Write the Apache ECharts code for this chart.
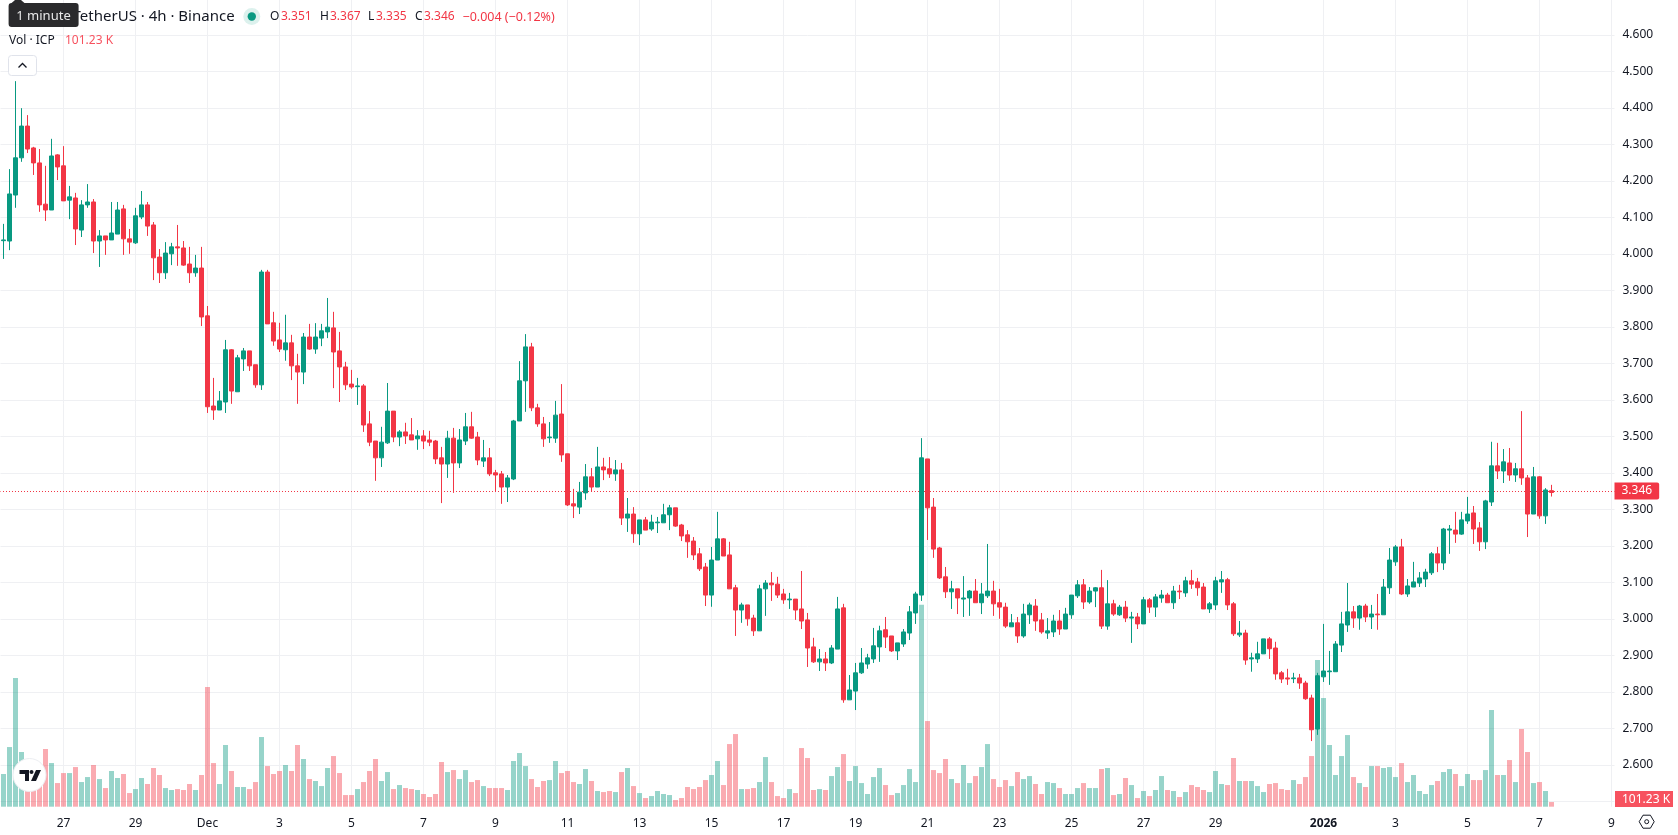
<!DOCTYPE html>
<html>
<head>
<meta charset="utf-8">
<title>ICP / TetherUS 4h</title>
<script src="https://cdn.jsdelivr.net/npm/echarts@6/dist/echarts.min.js"></script>
<style>
  html, body { margin: 0; padding: 0; background: #fff; }
  #chart { width: 1678px; height: 835px; }
</style>
</head>
<body>
<div id="chart"></div>
<script>
// ICP/USDT 4h candles, oldest first. One candle every four hours from the start time below.
const startTime = Date.UTC(2025, 10, 25, 8);
const stepMs = 4 * 3600 * 1000;
const slotCount = 269; // candles plus the empty space on the right of the time scale

const opens = [
  4.036,4.035,4.161,4.263,4.350,4.290,4.249,4.136,4.120,4.271,
  4.241,4.147,4.153,4.065,4.134,4.142,4.035,4.049,4.038,4.054,
  4.123,4.041,4.030,4.101,4.134,4.079,3.991,3.948,4.000,4.019,
  4.016,3.972,3.948,3.961,3.830,3.583,3.572,3.594,3.737,3.622,
  3.712,3.734,3.696,3.641,3.950,3.811,3.764,3.737,3.756,3.693,
  3.676,3.772,3.739,3.769,3.786,3.797,3.734,3.690,3.643,3.636,
  3.638,3.534,3.487,3.441,3.482,3.569,3.498,3.512,3.504,3.493,
  3.501,3.490,3.487,3.441,3.424,3.495,3.427,3.487,3.526,3.498,
  3.432,3.441,3.400,3.397,3.361,3.383,3.542,3.652,3.745,3.578,
  3.534,3.496,3.495,3.561,3.452,3.315,3.306,3.345,3.389,3.361,
  3.416,3.411,3.397,3.408,3.276,3.287,3.233,3.271,3.246,3.263,
  3.263,3.285,3.304,3.257,3.230,3.213,3.178,3.142,3.065,3.161,
  3.219,3.175,3.085,3.024,3.038,3.002,2.967,3.082,3.098,3.095,
  3.068,3.052,3.054,3.027,2.997,2.923,2.882,2.890,2.879,2.917,
  3.030,2.778,2.802,2.852,2.876,2.890,2.923,2.970,2.953,2.912,
  2.931,2.961,3.016,3.065,3.438,3.306,3.194,3.115,3.074,3.082,
  3.054,3.057,3.076,3.044,3.063,3.076,3.044,3.032,2.978,2.989,
  2.953,3.011,3.035,2.997,2.961,2.964,2.994,2.972,3.011,3.063,
  3.093,3.046,3.076,3.085,2.980,3.041,3.011,3.032,3.002,3.005,
  2.986,3.052,3.032,3.057,3.065,3.044,3.076,3.071,3.104,3.101,
  3.087,3.027,3.038,3.101,3.107,3.041,2.956,2.961,2.890,2.890,
  2.904,2.945,2.920,2.852,2.838,2.836,2.838,2.824,2.783,2.698,
  2.841,2.855,2.855,2.928,2.983,3.019,3.002,3.035,3.005,3.013,
  3.011,3.085,3.156,3.197,3.068,3.087,3.098,3.109,3.126,3.178,
  3.153,3.243,3.243,3.232,3.268,3.290,3.249,3.211,3.320,3.419,
  3.405,3.427,3.394,3.411,3.386,3.287,3.389,3.282,3.351
];
const closes = [
  4.038,4.164,4.263,4.350,4.287,4.249,4.134,4.120,4.268,4.238,
  4.145,4.156,4.068,4.134,4.142,4.035,4.049,4.038,4.057,4.120,
  4.041,4.032,4.104,4.134,4.076,3.989,3.948,4.002,4.019,4.016,
  3.969,3.948,3.961,3.827,3.581,3.572,3.597,3.737,3.624,3.715,
  3.734,3.693,3.641,3.950,3.808,3.761,3.739,3.756,3.693,3.676,
  3.772,3.739,3.772,3.789,3.799,3.731,3.690,3.641,3.635,3.638,
  3.531,3.484,3.441,3.484,3.569,3.498,3.512,3.501,3.490,3.501,
  3.487,3.484,3.438,3.424,3.495,3.427,3.490,3.526,3.495,3.435,
  3.441,3.397,3.394,3.361,3.386,3.542,3.652,3.745,3.578,3.534,
  3.493,3.498,3.558,3.449,3.312,3.309,3.347,3.389,3.361,3.416,
  3.408,3.397,3.408,3.276,3.287,3.233,3.271,3.243,3.265,3.265,
  3.285,3.304,3.254,3.227,3.211,3.175,3.137,3.065,3.161,3.219,
  3.172,3.082,3.024,3.038,3.000,2.967,3.082,3.098,3.093,3.065,
  3.052,3.054,3.024,2.994,2.920,2.882,2.890,2.879,2.920,3.027,
  2.778,2.805,2.852,2.879,2.893,2.926,2.967,2.950,2.912,2.934,
  2.964,3.019,3.068,3.441,3.304,3.191,3.112,3.074,3.082,3.057,
  3.057,3.076,3.044,3.068,3.076,3.041,3.032,2.980,2.989,2.953,
  3.013,3.038,2.994,2.964,2.967,2.994,2.972,3.013,3.065,3.093,
  3.046,3.076,3.085,2.980,3.041,3.013,3.032,3.002,3.005,2.986,
  3.052,3.032,3.060,3.065,3.044,3.076,3.074,3.104,3.095,3.085,
  3.027,3.041,3.104,3.107,3.038,2.959,2.961,2.887,2.893,2.904,
  2.945,2.918,2.849,2.835,2.835,2.838,2.824,2.781,2.696,2.844,
  2.857,2.857,2.931,2.986,3.019,3.002,3.035,3.005,3.013,3.011,
  3.087,3.161,3.197,3.068,3.090,3.101,3.112,3.128,3.178,3.153,
  3.246,3.246,3.232,3.271,3.287,3.246,3.211,3.323,3.419,3.405,
  3.430,3.394,3.411,3.386,3.287,3.389,3.282,3.353,3.346
];
const lows = [
  3.986,4.010,4.126,4.252,4.276,4.216,4.115,4.090,4.120,4.202,
  4.145,4.095,4.024,4.046,4.126,4.002,3.964,3.997,4.038,4.054,
  3.997,4.000,4.027,4.095,4.049,3.928,3.920,3.931,3.969,3.967,
  3.967,3.920,3.937,3.802,3.564,3.545,3.572,3.564,3.589,3.622,
  3.679,3.679,3.633,3.627,3.808,3.748,3.731,3.707,3.654,3.589,
  3.643,3.737,3.726,3.747,3.769,3.632,3.594,3.627,3.630,3.586,
  3.512,3.473,3.378,3.416,3.479,3.484,3.473,3.479,3.490,3.463,
  3.465,3.473,3.424,3.317,3.386,3.345,3.413,3.476,3.493,3.421,
  3.416,3.391,3.350,3.315,3.320,3.380,3.542,3.567,3.569,3.526,
  3.471,3.482,3.482,3.430,3.309,3.276,3.287,3.326,3.350,3.361,
  3.380,3.386,3.378,3.257,3.238,3.208,3.202,3.243,3.241,3.235,
  3.263,3.243,3.252,3.213,3.167,3.161,3.131,3.035,3.033,3.161,
  3.172,3.082,2.953,2.989,2.981,2.953,2.967,3.008,3.049,3.057,
  3.041,3.027,2.997,2.972,2.868,2.879,2.857,2.857,2.876,2.917,
  2.770,2.778,2.750,2.849,2.863,2.879,2.882,2.920,2.909,2.887,
  2.923,2.942,2.986,3.049,3.216,3.167,3.109,3.057,3.027,3.013,
  3.005,3.008,3.044,3.013,3.057,3.008,3.000,2.975,2.978,2.934,
  2.948,2.986,2.967,2.959,2.945,2.950,2.956,2.972,3.000,3.057,
  3.027,3.041,3.032,2.972,2.970,3.008,3.008,2.991,2.934,2.972,
  2.986,3.016,3.005,3.044,3.044,3.027,3.054,3.060,3.082,3.063,
  3.027,3.016,3.024,3.071,3.024,2.953,2.950,2.874,2.855,2.879,
  2.904,2.890,2.833,2.824,2.819,2.824,2.808,2.778,2.665,2.682,
  2.827,2.819,2.855,2.909,2.964,2.975,2.970,2.991,2.972,2.970,
  3.011,3.068,3.145,3.065,3.060,3.087,3.087,3.087,3.120,3.128,
  3.134,3.178,3.208,3.230,3.260,3.205,3.186,3.191,3.309,3.383,
  3.372,3.378,3.375,3.367,3.224,3.287,3.274,3.260,3.335
];
const highs = [
  4.082,4.232,4.473,4.399,4.380,4.293,4.287,4.241,4.315,4.273,
  4.295,4.186,4.167,4.147,4.191,4.150,4.065,4.049,4.142,4.142,
  4.134,4.068,4.126,4.172,4.142,4.087,4.013,4.032,4.030,4.079,
  4.035,4.019,3.997,4.019,3.857,3.660,3.624,3.764,3.739,3.723,
  3.742,3.734,3.696,3.956,3.956,3.841,3.811,3.833,3.778,3.726,
  3.783,3.808,3.810,3.808,3.879,3.841,3.786,3.704,3.682,3.660,
  3.643,3.569,3.487,3.526,3.646,3.569,3.517,3.537,3.550,3.517,
  3.517,3.515,3.490,3.471,3.515,3.523,3.520,3.564,3.567,3.512,
  3.490,3.468,3.408,3.405,3.394,3.545,3.706,3.780,3.756,3.589,
  3.553,3.539,3.597,3.643,3.452,3.356,3.375,3.424,3.413,3.471,
  3.441,3.443,3.435,3.427,3.331,3.306,3.271,3.279,3.285,3.279,
  3.315,3.312,3.304,3.260,3.243,3.224,3.194,3.153,3.197,3.293,
  3.221,3.211,3.093,3.044,3.038,3.011,3.093,3.106,3.128,3.115,
  3.082,3.071,3.054,3.131,3.016,2.948,2.917,2.909,2.928,3.060,
  3.041,2.846,2.879,2.920,2.904,2.975,2.981,3.005,2.953,2.934,
  2.972,3.035,3.074,3.495,3.438,3.331,3.197,3.142,3.104,3.082,
  3.117,3.079,3.109,3.098,3.205,3.104,3.082,3.044,3.013,3.005,
  3.041,3.044,3.054,3.016,3.002,3.011,3.024,3.030,3.065,3.106,
  3.109,3.087,3.087,3.134,3.106,3.052,3.038,3.049,3.019,3.016,
  3.060,3.057,3.068,3.079,3.071,3.090,3.093,3.115,3.134,3.112,
  3.098,3.046,3.115,3.131,3.112,3.046,2.994,2.970,2.907,2.937,
  2.945,2.950,2.937,2.857,2.863,2.852,2.849,2.830,2.792,2.852,
  2.986,2.912,2.939,3.019,3.098,3.035,3.038,3.041,3.038,3.068,
  3.109,3.194,3.202,3.219,3.109,3.156,3.128,3.137,3.183,3.197,
  3.249,3.257,3.293,3.293,3.334,3.309,3.265,3.326,3.485,3.482,
  3.465,3.468,3.427,3.569,3.394,3.416,3.391,3.358,3.367
];
// Traded volume per candle, in thousands of ICP.
const volumes = [
  709,1294,2791,1186,723,687,868,1251,947,513,
  730,730,860,535,643,904,600,405,774,622,
  709,296,383,622,492,839,687,405,362,383,
  362,492,362,687,2596,947,492,1338,774,427,
  427,383,535,1511,882,709,774,904,774,1338,
  1034,600,557,448,839,1099,730,253,253,383,
  535,774,1034,557,752,383,470,405,383,362,
  275,210,275,969,752,795,600,795,535,578,
  448,405,405,405,362,991,1164,882,600,427,
  557,578,991,730,774,535,492,817,557,340,
  318,340,318,752,839,448,296,188,231,340,
  275,253,145,188,427,383,427,578,687,991,
  470,1359,1576,383,383,405,535,1077,535,231,
  188,383,296,1272,1056,362,383,362,665,860,
  1142,557,882,513,275,643,839,470,253,296,
  470,817,535,4381,1858,795,730,1034,600,513,
  904,513,665,860,1359,600,427,578,448,752,
  600,665,492,275,535,513,405,275,275,405,
  513,405,405,817,839,253,275,622,470,188,
  340,231,362,665,362,340,210,318,470,427,
  362,318,774,492,470,1056,557,557,557,448,
  318,492,513,383,362,578,492,643,1099,3181,
  2357,1338,687,1099,1554,643,513,427,882,882,
  839,860,643,947,535,687,340,275,470,557,
  752,817,709,448,709,578,578,795,2097,687,
  687,1012,535,1685,1186,513,535,340,101.23
];

// Labelled dates of the time scale.
const tickDates = [
  '2025-11-27','2025-11-29','2025-12-01','2025-12-03','2025-12-05','2025-12-07','2025-12-09','2025-12-11',
  '2025-12-13','2025-12-15','2025-12-17','2025-12-19','2025-12-21','2025-12-23','2025-12-25','2025-12-27',
  '2025-12-29','2026-01-01','2026-01-03','2026-01-05','2026-01-07','2026-01-09'
];
const tickLabels = ['27','29','Dec','3','5','7','9','11','13','15','17','19','21','23','25','27','29','2026','3','5','7','9'];

const GREEN = '#089981';
const RED = '#F23645';
const GRID = '#EFF0F3';
const TEXT = '#131722';
const FONT = '"Noto Sans", sans-serif';

const times = [];
for (let i = 0; i < slotCount; i++) {
  times.push(new Date(startTime + i * stepMs).toISOString().slice(0, 16).replace('T', ' '));
}
const labelAt = {};
tickDates.forEach((d, i) => { labelAt[d + ' 00:00'] = tickLabels[i]; });
const isTick = (idx, value) => value in labelAt;

const candleData = opens.map((o, i) => [o, closes[i], lows[i], highs[i]]);
const volumeData = volumes.map((v, i) => ({
  value: v,
  itemStyle: { color: closes[i] >= opens[i] ? 'rgba(8,153,129,0.42)' : 'rgba(242,54,69,0.42)' }
}));
const lastClose = closes[closes.length - 1];

const text = (x, y, str, fill, extra) => ({
  type: 'text', x, y,
  style: Object.assign({ text: str, fill, font: '12px ' + FONT, textVerticalAlign: 'middle' }, extra || {})
});

// Overlay furniture: legend, buttons, logo badge and the volume tag.
const overlay = [
  text(234.6, 17, 'ICP / TetherUS · 4h · Binance', TEXT, { font: '15px ' + FONT, textAlign: 'right' }),
  { type: 'circle', shape: { cx: 251.8, cy: 16.5, r: 8.5 }, style: { fill: 'rgba(8,153,129,0.14)' } },
  { type: 'circle', shape: { cx: 251.8, cy: 16.5, r: 4.2 }, style: { fill: GREEN } },
  text(270, 17, 'O', TEXT), text(281, 17, '3.351', RED),
  text(320, 17, 'H', TEXT), text(330, 17, '3.367', RED),
  text(368, 17, 'L', TEXT), text(376, 17, '3.335', RED),
  text(415, 17, 'C', TEXT), text(424, 17, '3.346', RED),
  text(462.5, 17, '−0.004 (−0.12%)', RED, { font: '12.5px ' + FONT }),
  text(9, 41, 'Vol · ICP', TEXT),
  text(65, 41, '101.23 K', '#F7525F'),
  { type: 'rect', shape: { x: 8.5, y: 55.5, width: 28, height: 20, r: 3 }, style: { fill: '#fff', stroke: '#E0E3EB', lineWidth: 1 } },
  { type: 'polyline', shape: { points: [[18.5, 67.5], [22.5, 63.5], [26.5, 67.5]] }, style: { stroke: TEXT, lineWidth: 1.3, fill: null } },
  { type: 'polygon', shape: { points: [[11, 3.5], [15, 0], [21, 0], [25, 3.5]] }, style: { fill: '#2A2A2C' } },
  { type: 'rect', shape: { x: 8.6, y: 3, width: 70, height: 24, r: 3 }, style: { fill: '#2A2A2C' } },
  text(43.5, 16, '1 minute', '#E8E8E8', { textAlign: 'center', font: '13px ' + FONT }),
  { type: 'circle', shape: { cx: 29.5, cy: 775, r: 16.5 }, style: { fill: '#fff', stroke: '#ECEEF2', lineWidth: 1 } },
  { type: 'polygon', shape: { points: [[19.5, 770], [29, 770], [29, 781], [25, 781], [25, 774], [19.5, 774]] }, style: { fill: '#131722' } },
  { type: 'circle', shape: { cx: 31.5, cy: 772, r: 2 }, style: { fill: '#131722' } },
  { type: 'polygon', shape: { points: [[36, 770], [41, 770], [36, 781], [31, 781]] }, style: { fill: '#131722' } },
  { type: 'rect', shape: { x: 1615, y: 791, width: 58, height: 16 }, style: { fill: '#F7525F' } },
  text(1622, 799.5, '101.23 K', '#fff'),
  { type: 'polygon', shape: { points: [[1639.2, 821.7], [1643, 815.2], [1650.4, 815.2], [1654.2, 821.7], [1650.4, 828.2], [1643, 828.2]] }, style: { fill: null, stroke: TEXT, lineWidth: 1 } },
  { type: 'circle', shape: { cx: 1646.7, cy: 821.7, r: 2 }, style: { fill: null, stroke: TEXT, lineWidth: 1 } }
].map((el, i) => Object.assign(el, { z: 100 + i, silent: true }));

const chart = echarts.init(document.getElementById('chart'), null, { renderer: 'canvas' });
chart.setOption({
  animation: false,
  backgroundColor: '#ffffff',
  textStyle: { fontFamily: FONT },
  grid: [
    { left: 0.5, width: 1614, top: 34.8, height: 766.5 },
    { left: 0.5, width: 1614, top: 0, height: 806.7 }
  ],
  xAxis: [
    { type: 'category', gridIndex: 0, data: times, show: false, boundaryGap: true },
    {
      type: 'category', gridIndex: 1, data: times, boundaryGap: true,
      axisLine: { show: false },
      axisTick: { show: false },
      axisLabel: {
        interval: isTick, margin: 11, color: TEXT, fontSize: 12, fontFamily: FONT,
        formatter: (v) => labelAt[v] === '2026' ? '{y|2026}' : (labelAt[v] || ''),
        rich: { y: { fontWeight: 'bold', fontSize: 12, color: TEXT, fontFamily: FONT } },
        hideOverlap: false
      },
      splitLine: { show: true, interval: isTick, alignWithLabel: true, lineStyle: { color: GRID, width: 1 } }
    }
  ],
  yAxis: [
    {
      type: 'value', gridIndex: 0, position: 'right', min: 2.5, max: 4.6, interval: 0.1,
      axisLine: { show: false }, axisTick: { show: false },
      axisLabel: { margin: 8, color: TEXT, fontSize: 12, fontFamily: FONT, formatter: (v) => v.toFixed(3) },
      splitLine: { show: true, lineStyle: { color: GRID, width: 1 } }
    },
    { type: 'value', gridIndex: 1, min: 0, max: 17497, show: false, splitLine: { show: false } }
  ],
  series: [
    {
      type: 'bar', name: 'Vol', xAxisIndex: 1, yAxisIndex: 1, data: volumeData,
      barWidth: 5, silent: true, z: 1
    },
    {
      type: 'candlestick', name: 'ICPUSDT', xAxisIndex: 0, yAxisIndex: 0, data: candleData,
      barWidth: 4, silent: true, z: 3,
      itemStyle: { color: GREEN, color0: RED, borderColor: GREEN, borderColor0: RED, borderWidth: 1 },
      markLine: {
        silent: true, symbol: 'none', z: 2, animation: false,
        lineStyle: { color: RED, type: [1, 2], dashOffset: 0.5, width: 1 },
        label: {
          position: 'end', distance: 0, formatter: lastClose.toFixed(3),
          color: '#fff', backgroundColor: RED, fontSize: 12, fontFamily: FONT,
          lineHeight: 13, padding: [2, 7, 2, 7], borderRadius: [0, 2, 2, 0]
        },
        data: [{ yAxis: lastClose }]
      }
    }
  ],
  graphic: { elements: overlay }
});
</script>
</body>
</html>
